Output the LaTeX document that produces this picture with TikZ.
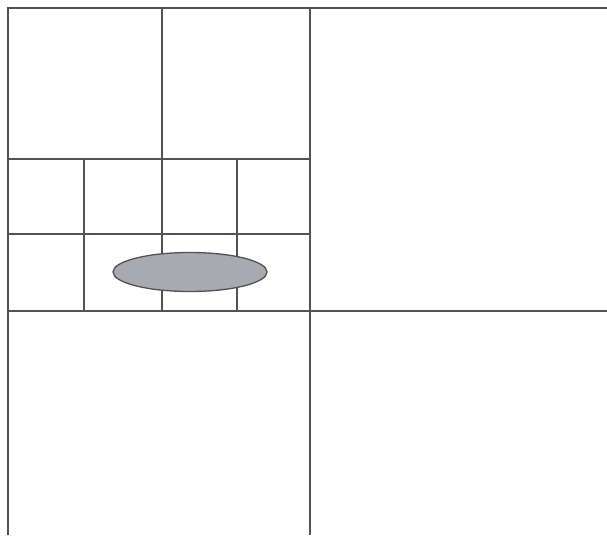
\documentclass[tikz,border=0pt]{standalone}
\usetikzlibrary{shapes.geometric}
\definecolor{gridline}{HTML}{505257}
\definecolor{blobfill}{HTML}{A8AAB0}
\tikzset{gridln/.style={draw=gridline,line width=1.6pt},
blob/.style={ellipse,draw=gridline,line width=1.3pt,fill=blobfill,minimum width=154pt,minimum height=39pt,inner sep=0pt}}
\begin{document}
\begin{tikzpicture}[x=1pt,y=1pt]
\useasboundingbox (0,0) rectangle (607,535);
% outer lines
\draw[gridln] (8,0) -- (8,527) -- (607,527);
\draw[gridln] (310,0) -- (310,527);
\draw[gridln] (8,224) -- (607,224);
% upper-left quadrant subdivision
\draw[gridln] (8,376) -- (310,376);
\draw[gridln] (8,301) -- (310,301);
\draw[gridln] (162,224) -- (162,527);
\draw[gridln] (84,224) -- (84,376);
\draw[gridln] (237,224) -- (237,376);
% object
\node[blob] (obj) at (190,263) {};
\end{tikzpicture}
\end{document}
